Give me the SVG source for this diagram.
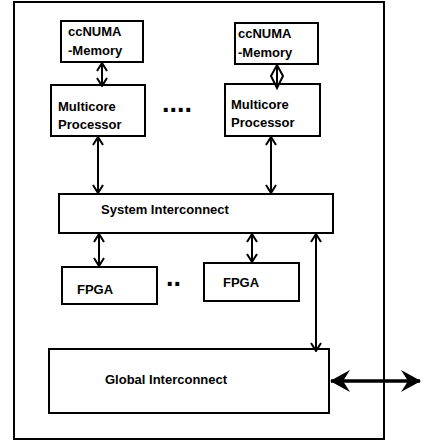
<svg xmlns="http://www.w3.org/2000/svg" width="423" height="445" viewBox="0 0 423 445">
<defs>
<style>
.box{fill:#fff;stroke:#000;stroke-width:2}
.t{font-family:"Liberation Sans",Arial,sans-serif;font-weight:bold;font-size:13px;fill:#000}
.dots{font-family:"Liberation Sans",Arial,sans-serif;font-weight:bold;font-size:27px;fill:#000}
.c{stroke:#000;stroke-width:2;fill:none}
.thick{stroke:#000;stroke-width:3.5;fill:none}
</style>
<marker id="open" viewBox="0 0 10 12" refX="9" refY="6" markerWidth="10" markerHeight="12" markerUnits="userSpaceOnUse" orient="auto-start-reverse">
<path d="M1,1 L9,6 L1,11" fill="none" stroke="#000" stroke-width="2"/>
</marker>
<marker id="solid" viewBox="0 0 20 22" refX="19" refY="11" markerWidth="20" markerHeight="22" markerUnits="userSpaceOnUse" orient="auto-start-reverse">
<path d="M0,0 L20,11 L0,22 L7,11 Z" fill="#000"/>
</marker>
</defs>
<rect id="outer" x="14" y="2" width="370" height="437" fill="#fff" stroke="#000" stroke-width="2"/>
<g id="mem1"><rect class="box" x="61" y="21" width="82" height="41"/><text class="t" x="68" y="36">ccNUMA</text><text class="t" x="68" y="55">-Memory</text></g>
<g id="mem2"><rect class="box" x="235" y="23" width="83" height="41"/><text class="t" x="238" y="37.5">ccNUMA</text><text class="t" x="238" y="56.5">-Memory</text></g>
<g id="proc1"><rect class="box" x="51" y="85" width="94" height="51"/><text class="t" x="58" y="110.5">Multicore</text><text class="t" x="58" y="128.5">Processor</text></g>
<g id="proc2"><rect class="box" x="225" y="84" width="95" height="52"/><text class="t" x="231" y="108.5">Multicore</text><text class="t" x="231" y="127">Processor</text></g>
<g id="ellipsis1"><text class="dots" x="162" y="111.5">....</text></g>
<g id="sys"><rect class="box" x="59" y="194" width="274" height="39"/><text class="t" x="101" y="214">System Interconnect</text></g>
<g id="fpga1"><rect class="box" x="62" y="267" width="95" height="37"/><text class="t" x="77" y="294">FPGA</text></g>
<g id="ellipsis2"><text class="dots" x="166" y="286">..</text></g>
<g id="fpga2"><rect class="box" x="204" y="263" width="95" height="38"/><text class="t" x="223" y="287">FPGA</text></g>
<g id="global"><rect class="box" x="49" y="349" width="280" height="64"/><text class="t" x="105" y="384">Global Interconnect</text></g>
<g id="connectors">
<line class="c" x1="102" y1="63" x2="102" y2="86" marker-start="url(#open)" marker-end="url(#open)"/>
<line class="c" x1="277" y1="64" x2="277" y2="88"/>
<path class="c" d="M277,65 L283,76 L277,88 L271,76 Z"/>
<line class="c" x1="98" y1="137" x2="98" y2="193" marker-start="url(#open)" marker-end="url(#open)"/>
<line class="c" x1="271" y1="137" x2="271" y2="193" marker-start="url(#open)" marker-end="url(#open)"/>
<line class="c" x1="99" y1="234" x2="99" y2="266" marker-start="url(#open)" marker-end="url(#open)"/>
<line class="c" x1="252" y1="234" x2="252" y2="262" marker-start="url(#open)" marker-end="url(#open)"/>
<line class="c" x1="316" y1="234" x2="316" y2="351" marker-start="url(#open)" marker-end="url(#open)"/>
<line class="thick" x1="331" y1="381" x2="420" y2="381" marker-start="url(#solid)" marker-end="url(#solid)"/>
</g>
</svg>
